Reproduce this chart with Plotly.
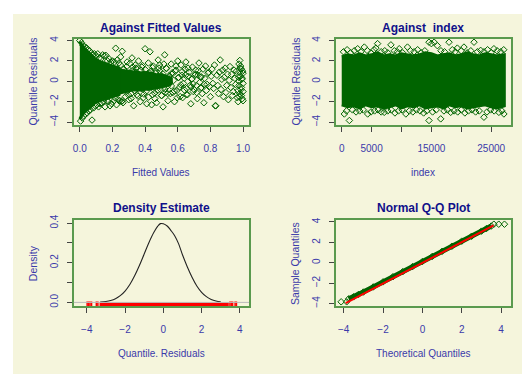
import plotly.graph_objects as go

# ---------------- data ----------------
# Panel 1: residuals against fitted values
fit_env_x = [0.0, 0.01, 0.03, 0.05, 0.08, 0.10, 0.13, 0.16, 0.20, 0.24]
fit_env_upper = [3.9, 3.6, 3.2, 2.9, 2.4, 2.1, 1.9, 1.7, 1.5, 1.3]
fit_env_lower = [-3.7, -3.4, -3.0, -2.7, -2.3, -2.0, -1.8, -1.7, -1.5, -1.3]
fit_mid_x = [0.22, 0.27, 0.32, 0.37, 0.42, 0.47, 0.52, 0.56]
fit_mid_upper = [1.3, 1.1, 1.0, 0.9, 0.9, 0.7, 0.6, 0.3]
fit_mid_lower = [-1.3, -1.1, -0.9, -0.9, -0.8, -0.7, -0.5, -0.3]
fit_x = [0.0, 0.005, 0.01, 0.015, 0.02, 0.025, 0.03, 0.035, 0.04, 0.045, 0.05, 0.055, 0.06, 0.065, 0.07, 0.075,
         0.08, 0.085, 0.09, 0.095, 0.1, 0.105, 0.11, 0.115, 0.12, 0.125, 0.13, 0.135, 0.14, 0.145, 0.15, 0.155,
         0.16, 0.165, 0.17, 0.175, 0.18, 0.185, 0.19, 0.195, 0.2, 0.21, 0.22, 0.225, 0.23, 0.235, 0.24, 0.245,
         0.25, 0.255, 0.26, 0.265,
         0.27, 0.275, 0.28, 0.285, 0.29, 0.295, 0.30, 0.305, 0.31, 0.315, 0.32, 0.325, 0.33, 0.335, 0.34, 0.345,
         0.35, 0.355, 0.36, 0.365, 0.37, 0.375, 0.38, 0.385, 0.39, 0.395, 0.40, 0.405, 0.41, 0.415, 0.42, 0.425,
         0.43, 0.435, 0.44, 0.445, 0.45, 0.455, 0.46, 0.465, 0.47, 0.475, 0.48, 0.485, 0.49, 0.495, 0.50, 0.505,
         0.51, 0.515, 0.52, 0.525,
         0.53, 0.535, 0.54, 0.545, 0.55, 0.555, 0.56, 0.565, 0.57, 0.575, 0.58, 0.585, 0.59, 0.595, 0.60, 0.605,
         0.61, 0.615, 0.62, 0.625, 0.63, 0.635, 0.64, 0.645, 0.65, 0.655, 0.66, 0.665, 0.67, 0.675, 0.68, 0.685,
         0.69, 0.695, 0.70, 0.705, 0.71, 0.715, 0.72, 0.725, 0.73, 0.735, 0.74, 0.745, 0.75, 0.755, 0.76, 0.765,
         0.77, 0.775, 0.78, 0.785, 0.79, 0.795, 0.80,
         0.805, 0.81, 0.815, 0.82, 0.825, 0.83, 0.833, 0.84, 0.845, 0.85, 0.855, 0.86, 0.865, 0.87, 0.875, 0.88,
         0.885, 0.89, 0.895, 0.90, 0.905, 0.91, 0.915, 0.92, 0.925, 0.93, 0.935, 0.94, 0.945, 0.95, 0.955, 0.96,
         0.965,
         0.97, 0.97, 0.972, 0.975, 0.975, 0.975, 0.978, 0.98, 0.98, 0.98, 0.983, 0.985, 0.985, 0.987, 0.99, 0.99,
         0.99, 0.992, 0.995, 0.995, 0.997, 1.0, 1.0, 1.0, 1.0,
         0.212, 0.231, 0.249, 0.268, 0.287, 0.306, 0.321, 0.343, 0.362, 0.384, 0.401, 0.427, 0.446, 0.468,
         0.489, 0.508, 0.531, 0.547, 0.566, 0.589, 0.604, 0.627, 0.648, 0.663, 0.687, 0.709, 0.726, 0.744,
         0.217, 0.236, 0.259, 0.276, 0.299, 0.314, 0.336, 0.356, 0.377, 0.393, 0.421, 0.437, 0.459, 0.476,
         0.502, 0.521, 0.538, 0.561, 0.579, 0.597, 0.619, 0.641, 0.654, 0.681, 0.694, 0.716, 0.741, 0.762]
fit_res = [4.0, -3.9, 3.8, -3.6, 3.5, -3.4, 3.4, -3.2, 3.3, -3.1, 3.1, -2.9, 3.0, -2.8, 2.8, -3.8,
           2.6, -2.6, 2.7, -2.4, 2.5, -2.3, 2.7, -2.5, 2.3, -2.2, 2.2, -2.1, 2.6, -2.0, 2.5, -2.5,
           2.55, -1.9, 2.0, -2.0, 2.2, -2.4, 1.9, -2.2, 2.0, -1.9, 3.25, -2.3, 2.1, -1.8, 1.8, -1.9,
           2.4, -2.0, 2.95, -2.1,
           1.2, -0.4, -1.5, 0.6, 1.9, -0.9, -1.8, 0.3, 0.8, -1.2, 2.3, 1.4, -2.4, -0.2, 1.6, 0.9,
           -1.3, -0.7, 2.0, 0.2, -2.0, 1.1, 1.4, -0.5, -1.6, 0.7, 3.2, -1.0, -2.2, 0.4, 1.8, -0.6,
           2.9, 1.0, -2.3, -1.3, 1.5, 0.1, -1.7, 0.8, -2.1, -0.3, 2.1, 1.3, 1.0, -0.8, -1.4, 0.5,
           -2.5, 1.7, 2.6, -1.1,
           1.3, -0.5, -1.9, 0.2, 0.5, -1.2, 1.7, 0.7, -1.1, 0.1, -2.0, 1.0, 1.1, -0.9, 2.0, 0.4,
           -0.6, -1.5, 1.6, 0.6, -1.6, -0.2, 0.3, 1.2, 1.9, -0.7, -1.3, 0.5, 0.9, -0.4, -2.2, 0.2,
           1.4, -1.0, -0.8, 0.6, 1.1, -0.4, -1.7, 0.6, 1.8, -0.1, 0.4, -0.6, -1.2, 1.2, -2.1, 0.3,
           1.5, -0.9, -0.3, 0.8, 0.9, -0.5, -1.5,
           0.5, 1.2, -0.2, -0.7, 1.6, -2.4, -2.4, 0.6, -0.4, -1.2, 0.9, 2.1, -0.8, 0.2, 1.1, -1.5,
           0.4, 1.3, -1.1, -0.4, 0.7, -1.8, 0.1, 1.45, -0.6, 0.7, -1.4, -1.0, 1.1, 0.3, -0.3, 1.0,
           -1.6,
           -2.0, -0.9, 0.4, 1.7, 0.0, -0.4, -1.5, 2.05, -1.2, 0.9, 1.3, 0.5, 1.5, -0.8, -0.6, 1.2,
           -1.4, 0.2, -1.7, 0.3, 1.0, 0.8, -0.2, -1.0, -1.9,
           1.9, 1.2, 1.6, 0.9, 1.45, 1.75, 1.05, 1.3, 0.65, 1.55, 1.15, 0.8, 1.35, 0.95,
           1.6, 0.75, 1.25, 0.55, 0.85, 1.5, 0.35, 0.95, 0.6, 1.3, 0.25, 0.7, 1.05, 0.45,
           -1.65, -1.1, -1.9, -0.85, -1.35, -1.7, -0.95, -1.45, -0.7, -1.25, -1.55, -0.6, -1.15, -0.9,
           -1.4, -0.75, -1.2, -0.45, -0.95, -1.6, -0.35, -0.85, -1.3, -0.55, -0.25, -1.1, -0.65, -0.3]

# Panel 2: residuals against index (dense band + scattered tails)
idx_band = [1, 1000, 2000, 3000, 4000, 5000, 6000, 7000, 8000, 9000, 10000, 11000, 12000, 13000,
            14000, 15000, 16000, 17000, 18000, 19000, 20000, 21000, 22000, 23000, 24000, 25000, 26000, 27200]
idx_upper = [2.4, 2.6, 2.5, 2.7, 2.5, 2.6, 2.8, 2.5, 2.6, 2.5, 2.7, 2.6, 2.5, 2.6,
             2.8, 2.7, 2.5, 2.6, 2.7, 2.5, 2.6, 2.8, 2.6, 2.5, 2.7, 2.6, 2.5, 2.6]
idx_lower = [-2.3, -2.5, -2.4, -2.6, -2.3, -2.5, -2.4, -2.6, -2.5, -2.3, -2.6, -2.4, -2.5, -2.3,
             -2.6, -2.5, -2.4, -2.6, -2.3, -2.5, -2.4, -2.6, -2.5, -2.4, -2.3, -2.5, -2.6, -2.4]
idx_x = [300, 900, 1500, 2100, 2670, 3200, 3780, 4300, 4900, 5400, 5720, 6000, 6600, 7200, 7700, 8230,
         8800, 9300, 9620, 10200, 11000, 11500, 12100, 12700, 13300, 13900, 14600, 15000, 15460, 16000,
         16600, 17200, 17950, 18500, 19000, 19340, 20000, 20450, 21000, 21600, 22130, 22700, 23240, 23800,
         24400, 25000, 25460, 26000, 26600, 27100,
         440, 800, 1280, 1800, 2400, 3000, 3600, 4340, 4900, 5500, 6100, 6600, 7110, 7700, 8300, 8900,
         9500, 10100, 10730, 11300, 11900, 12500, 13100, 13700, 14200, 14600, 15200, 15800, 16560, 17100,
         17700, 18230, 18800, 19400, 20000, 20600, 21200, 21800, 22400, 23000, 23790, 24300, 24900, 25500,
         26290, 26800, 27130]
idx_res = [2.9, 3.1, 2.8, 3.0, 3.2, 2.9, 3.36, 3.0, 2.8, 3.1, 3.26, 3.7, 2.9, 3.0, 2.8, 3.58,
           3.0, 2.9, 3.2, 2.8, 3.36, 3.0, 2.9, 3.1, 2.8, 3.0, 3.84, 3.7, 3.84, 3.5,
           3.0, 2.9, 3.84, 3.1, 2.9, 3.26, 3.0, 3.36, 2.8, 3.0, 3.84, 2.9, 3.04, 2.9,
           3.1, 2.8, 3.2, 3.0, 2.9, 3.1,
           -3.2, -2.9, -3.84, -2.8, -3.0, -2.9, -2.8, -3.2, -3.0, -2.9, -2.8, -3.0, -3.04, -2.9, -2.8, -3.1,
           -2.9, -2.8, -3.2, -2.9, -3.0, -2.8, -2.9, -3.1, -2.9, -3.84, -3.0, -2.8, -3.68, -2.9,
           -2.8, -3.04, -2.9, -3.0, -2.8, -3.1, -2.9, -2.8, -3.0, -2.9, -3.52, -3.0, -2.8, -2.9,
           -3.04, -2.9, -3.2]

# Panel 3: density estimate of the quantile residuals
dens_x = [-3.3, -3.0, -2.75, -2.5, -2.25, -2.0, -1.75, -1.5, -1.25, -1.0, -0.75, -0.5, -0.3,
          -0.15, 0.0, 0.2, 0.4, 0.6, 0.8, 1.0, 1.25, 1.5, 1.75, 2.0, 2.25, 2.5, 2.75, 3.0]
dens_y = [0.002, 0.005, 0.010, 0.019, 0.034, 0.057, 0.090, 0.134, 0.186, 0.244, 0.302, 0.352, 0.383,
          0.397, 0.396, 0.385, 0.362, 0.335, 0.295, 0.240, 0.180, 0.127, 0.083, 0.051, 0.029, 0.015, 0.007, 0.003]
rug_dense = [-3.33, 3.42]
rug_x = [-3.98, -3.9, -3.83, -3.75, -3.5, -3.42, 3.48, 3.55, 3.62, 3.75, 3.82]

# Panel 4: normal Q-Q plot
qq_theo = [-3.75, -3.5, -3.25, -3.0, -2.5, -2.0, -1.5, -1.0, -0.5, 0.0, 0.5, 1.0, 1.5, 2.0,
           2.5, 3.0, 3.25, 3.5]
qq_sample = [-3.55, -3.35, -3.12, -2.88, -2.38, -1.88, -1.38, -0.88, -0.38, 0.12, 0.62, 1.12, 1.62, 2.12,
             2.6, 3.1, 3.35, 3.6]
qq_out_theo = [-4.13, -3.85, 3.63, 3.88, 4.17]
qq_out_sample = [-3.84, -3.84, 3.78, 3.78, 3.78]
qqline_x = [-3.9, 3.62]
qqline_y = [-3.97, 3.66]

# ---------------- style ----------------
OFF = 8                 # page body margin of the html page
W, H = 530 - OFF, 380 - OFF
BEIGE = "#F5F5DC"
GREEN = "#006400"
BOX = "#5A9A4E"
TITLE_C = "#10108A"
LAB_C = "#3A3AAA"
FONT = "Liberation Sans, Arial, sans-serif"


def px_x(p):
    return (p - OFF) / W


def px_y(p):
    return 1 - (p - OFF) / H


fig = go.Figure()
mk = dict(symbol="diamond-open", size=5, color=GREEN, line=dict(width=1, color=GREEN))

# Panel 1
fig.add_trace(go.Scatter(
    x=fit_mid_x + fit_mid_x[::-1], y=fit_mid_upper + fit_mid_lower[::-1],
    fill="toself", fillcolor=GREEN, mode="lines", line=dict(color=GREEN, width=2, shape="spline"),
    xaxis="x", yaxis="y"))
fig.add_trace(go.Scatter(
    x=fit_env_x + fit_env_x[::-1], y=fit_env_upper + fit_env_lower[::-1],
    fill="toself", fillcolor=GREEN, mode="lines", line=dict(color=GREEN, width=3),
    xaxis="x", yaxis="y"))
fig.add_trace(go.Scatter(x=fit_x, y=fit_res, mode="markers", marker=mk, xaxis="x", yaxis="y"))

# Panel 2
fig.add_trace(go.Scatter(
    x=idx_band + idx_band[::-1], y=idx_upper + idx_lower[::-1],
    fill="toself", fillcolor=GREEN, mode="lines", line=dict(color=GREEN, width=3),
    xaxis="x2", yaxis="y2"))
fig.add_trace(go.Scatter(x=idx_x, y=idx_res, mode="markers", marker=mk, xaxis="x2", yaxis="y2"))

# Panel 3
y3_range = [-0.02, 0.415]
rug_y = y3_range[0] + 0.01
fig.add_trace(go.Scatter(
    x=rug_dense, y=[rug_y] * len(rug_dense), mode="lines",
    line=dict(color="#FF0000", width=4), xaxis="x3", yaxis="y3"))
fig.add_trace(go.Scatter(
    x=rug_x, y=[rug_y] * len(rug_x), mode="markers",
    marker=dict(symbol="line-ns-open", size=4, color="#FF0000", line=dict(color="#FF0000", width=1.5)),
    xaxis="x3", yaxis="y3"))
fig.add_trace(go.Scatter(
    x=dens_x, y=dens_y, mode="lines", line=dict(color="#222222", width=1.1, shape="spline"),
    xaxis="x3", yaxis="y3"))

# Panel 4
fig.add_trace(go.Scatter(
    x=qq_theo, y=qq_sample, mode="lines+markers",
    line=dict(color=GREEN, width=5), marker=mk, xaxis="x4", yaxis="y4"))
fig.add_trace(go.Scatter(x=qq_out_theo, y=qq_out_sample, mode="markers", marker=mk,
                         xaxis="x4", yaxis="y4"))
fig.add_trace(go.Scatter(
    x=qqline_x, y=qqline_y, mode="lines", line=dict(color="#FF0000", width=2),
    xaxis="x4", yaxis="y4"))

axis_common = dict(
    showline=True, mirror=True, linecolor=BOX, linewidth=1.5,
    showgrid=False, zeroline=False, ticks="outside", ticklen=5, tickwidth=1,
    tickcolor="#444444", tickfont=dict(family=FONT, size=10, color=LAB_C),
    fixedrange=True,
)

top_y = [px_y(121), px_y(33)]
bot_y = [px_y(306), px_y(218)]
left_x = [px_x(73), px_x(249)]
right_x = [px_x(336), px_x(512)]

fig.update_layout(
    width=W, height=H,
    margin=dict(l=0, r=0, t=0, b=0),
    paper_bgcolor="white", plot_bgcolor=BEIGE,
    showlegend=False, hovermode=False,
    font=dict(family=FONT),
    xaxis=dict(axis_common, domain=left_x, anchor="y", range=[-0.037, 1.037],
               tickvals=[0, 0.2, 0.4, 0.6, 0.8, 1.0], ticktext=["0.0", "0.2", "0.4", "0.6", "0.8", "1.0"],
               ticklabelstandoff=8),
    yaxis=dict(axis_common, domain=top_y, anchor="x", range=[-4.27, 4.2],
               tickvals=[-4, -2, 0, 2, 4], tickangle=-90, ticklabelstandoff=5),
    xaxis2=dict(axis_common, domain=right_x, anchor="y2", range=[-1000, 28330],
                tickvals=[0, 5000, 10000, 15000, 20000, 25000],
                ticktext=["0", "5000", "", "15000", "", "25000"], ticklabelstandoff=8),
    yaxis2=dict(axis_common, domain=top_y, anchor="x2", range=[-4.27, 4.2],
                tickvals=[-4, -2, 0, 2, 4], tickangle=-90, ticklabelstandoff=5),
    xaxis3=dict(axis_common, domain=left_x, anchor="y3", range=[-4.68, 4.48],
                tickvals=[-4, -2, 0, 2, 4], ticklabelstandoff=8),
    yaxis3=dict(axis_common, domain=bot_y, anchor="x3", range=y3_range,
                tickvals=[0, 0.1, 0.2, 0.3, 0.4], ticktext=["0.0", "", "0.2", "", "0.4"],
                tickangle=-90, ticklabelstandoff=5),
    xaxis4=dict(axis_common, domain=right_x, anchor="y4", range=[-4.405, 4.506],
                tickvals=[-4, -2, 0, 2, 4], ticklabelstandoff=8),
    yaxis4=dict(axis_common, domain=bot_y, anchor="x4", range=[-4.29, 4.19],
                tickvals=[-4, -2, 0, 2, 4], tickangle=-90, ticklabelstandoff=5),
)

# beige background panel
fig.add_shape(type="rect", xref="paper", yref="paper", x0=px_x(12), x1=1.0, y0=px_y(375), y1=1.0,
              fillcolor=BEIGE, line=dict(width=0), layer="below")
# zero line for density
fig.add_shape(type="line", xref="x3 domain", yref="y3", x0=0, x1=1, y0=0, y1=0,
              line=dict(color="#BBBBBB", width=1))

titles = [("Against Fitted Values", 161, 22), ("Against\u00a0\u00a0index", 424, 22),
          ("Density Estimate", 161, 206), ("Normal Q-Q Plot", 424, 206)]
for t, x, y in titles:
    fig.add_annotation(text="<b>%s</b>" % t, x=px_x(x), y=px_y(y), xref="paper", yref="paper",
                       showarrow=False, xanchor="center", yanchor="middle",
                       font=dict(family=FONT, size=12, color=TITLE_C))

xlabels = [("Fitted Values", 161, 170), ("index", 424, 170),
           ("Quantile. Residuals", 161, 354), ("Theoretical Quantiles", 424, 354)]
for t, x, y in xlabels:
    fig.add_annotation(text=t, x=px_x(x), y=px_y(y), xref="paper", yref="paper",
                       showarrow=False, xanchor="center", yanchor="middle",
                       font=dict(family=FONT, size=10, color=LAB_C))

ylabels = [("Quantile Residuals", 32, 77), ("Quantile Residuals", 296, 77),
           ("Density", 32, 262), ("Sample Quantiles", 295, 262)]
for t, x, y in ylabels:
    fig.add_annotation(text=t, x=px_x(x), y=px_y(y), xref="paper", yref="paper",
                       showarrow=False, xanchor="center", yanchor="middle", textangle=-90,
                       font=dict(family=FONT, size=10.5, color=LAB_C))

fig.write_html("out.html")
